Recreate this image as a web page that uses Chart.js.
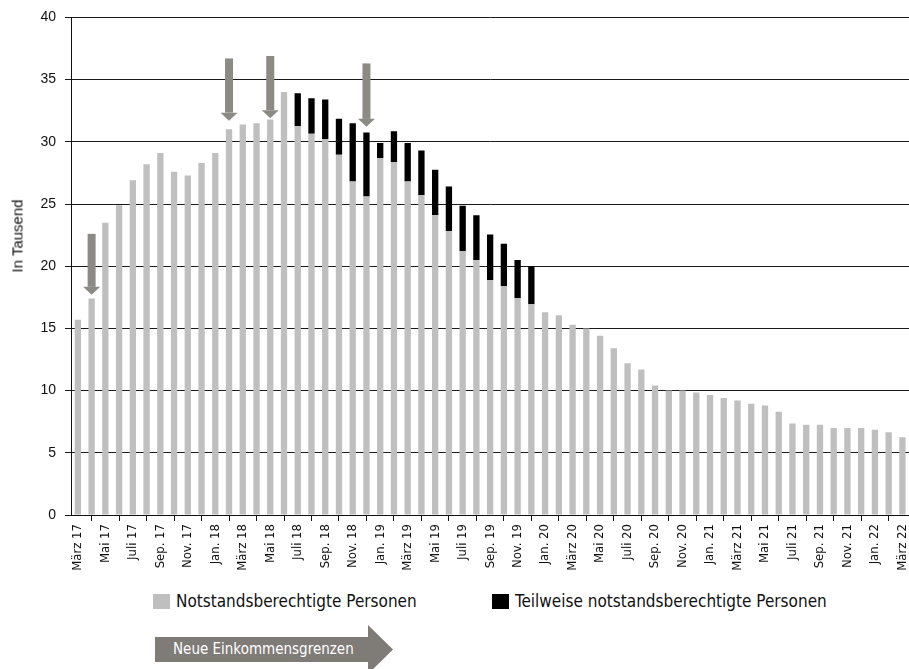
<!DOCTYPE html>
<html lang="de">
<head>
<meta charset="utf-8">
<title>Notstandsberechtigte Personen</title>
<script src="https://cdn.jsdelivr.net/npm/chart.js@4.4.1/dist/chart.umd.min.js"></script>
<style>
  html, body { margin: 0; padding: 0; background: #fff; overflow: hidden; }
  #wrap { position: relative; width: 909px; height: 669px; overflow: hidden; font-family: "Liberation Sans Narrow", "DejaVu Sans Condensed", sans-serif; color: #111; }
  #box { position: absolute; left: 0; top: 0; width: 921px; height: 590px; }
  #ytitle { position: absolute; left: 17px; top: 236px; transform: translate(-50%, -50%) rotate(-90deg); font: 15px "Liberation Sans", sans-serif; color: #111; white-space: nowrap; }
  .leg { position: absolute; top: 591px; font-size: 17px; white-space: nowrap; line-height: 20px; }
  .leg span { display: inline-block; width: 17px; height: 15px; vertical-align: -2px; margin-right: 6px; }
  #grenzen { position: absolute; left: 155px; top: 625px; width: 238px; height: 49px; background: #7f7b77;
             clip-path: polygon(0 12px, 213px 12px, 213px 0, 238px 24.5px, 213px 49px, 213px 37px, 0 37px);
             color: #fff; font-size: 15px; line-height: 49px; box-sizing: border-box; padding-left: 18px; }
</style>
</head>
<body>
<div id="wrap">
  <div id="box"><canvas id="chart"></canvas></div>
  <div id="ytitle">In Tausend</div>
  <div id="legend"></div>
  <div id="grenzen">Neue Einkommensgrenzen</div>
</div>
<script>
// Monate März 2017 bis März 2022
const monate = [
  'März 17', 'Apr. 17', 'Mai 17', 'Juni 17', 'Juli 17', 'Aug. 17', 'Sep. 17', 'Okt. 17', 'Nov. 17', 'Dez. 17',
  'Jan. 18', 'Feb. 18', 'März 18', 'Apr. 18', 'Mai 18', 'Juni 18', 'Juli 18', 'Aug. 18', 'Sep. 18', 'Okt. 18', 'Nov. 18', 'Dez. 18',
  'Jan. 19', 'Feb. 19', 'März 19', 'Apr. 19', 'Mai 19', 'Juni 19', 'Juli 19', 'Aug. 19', 'Sep. 19', 'Okt. 19', 'Nov. 19', 'Dez. 19',
  'Jan. 20', 'Feb. 20', 'März 20', 'Apr. 20', 'Mai 20', 'Juni 20', 'Juli 20', 'Aug. 20', 'Sep. 20', 'Okt. 20', 'Nov. 20', 'Dez. 20',
  'Jan. 21', 'Feb. 21', 'März 21', 'Apr. 21', 'Mai 21', 'Juni 21', 'Juli 21', 'Aug. 21', 'Sep. 21', 'Okt. 21', 'Nov. 21', 'Dez. 21',
  'Jan. 22', 'Feb. 22', 'März 22'
];

// in Tausend
const notstand = [
  15.7, 17.4, 23.5, 24.9, 26.9, 28.2, 29.1, 27.6, 27.3, 28.3,
  29.1, 31.0, 31.4, 31.5, 31.8, 34.0, 31.25, 30.65, 30.2, 28.95, 26.8, 25.6,
  28.7, 28.35, 26.8, 25.7, 24.1, 22.8, 21.2, 20.5, 18.9, 18.4, 17.45, 16.95,
  16.3, 16.05, 15.3, 15.0, 14.4, 13.4, 12.2, 11.7, 10.4, 10.0, 10.0, 9.85,
  9.65, 9.4, 9.2, 8.95, 8.8, 8.3, 7.35, 7.25, 7.25, 7.0, 7.0, 7.0,
  6.85, 6.65, 6.25
];

const teilweise = [
  0, 0, 0, 0, 0, 0, 0, 0, 0, 0,
  0, 0, 0, 0, 0, 0, 2.65, 2.85, 3.2, 2.9, 4.7, 5.15,
  1.2, 2.5, 3.1, 3.6, 3.65, 3.6, 3.65, 3.6, 3.65, 3.4, 3.05, 3.05,
  0, 0, 0, 0, 0, 0, 0, 0, 0, 0, 0, 0,
  0, 0, 0, 0, 0, 0, 0, 0, 0, 0, 0, 0,
  0, 0, 0
];

// Pfeile: Monat, oberes Ende, Spitze
const pfeilMonat = ['Apr. 17', 'Feb. 18', 'Mai 18', 'Dez. 18'];
const pfeilVon = [22.6, 36.7, 36.9, 36.3];
const pfeilBis = [17.7, 31.7, 31.9, 31.2];

const pfeile = {
  id: 'pfeile',
  afterDatasetsDraw(chart) {
    const { ctx, scales: { x, y } } = chart;
    ctx.save();
    ctx.fillStyle = '#8b8a85';
    pfeilMonat.forEach((m, i) => {
      const px = x.getPixelForValue(monate.indexOf(m));
      const top = y.getPixelForValue(pfeilVon[i]);
      const tip = y.getPixelForValue(pfeilBis[i]);
      ctx.fillRect(px - 4, top, 8, tip - top - 8);
      ctx.beginPath();
      ctx.moveTo(px - 8.5, tip - 8);
      ctx.lineTo(px + 8.5, tip - 8);
      ctx.lineTo(px, tip);
      ctx.closePath();
      ctx.fill();
    });
    ctx.restore();
  }
};

const chart = new Chart(document.getElementById('chart'), {
  type: 'bar',
  data: {
    labels: monate,
    datasets: [
      { label: 'Notstandsberechtigte Personen', data: notstand, backgroundColor: '#bfbfbf' },
      { label: 'Teilweise notstandsberechtigte Personen', data: teilweise, backgroundColor: '#000000' }
    ]
  },
  options: {
    responsive: true,
    maintainAspectRatio: false,
    animation: false,
    barPercentage: 0.46,
    categoryPercentage: 1,
    layout: { padding: { top: 17, left: 0, right: 0, bottom: 0 } },
    plugins: { legend: { display: false }, tooltip: { enabled: false } },
    scales: {
      x: {
        stacked: true,
        afterFit: (s) => { s.height = 75; },
        border: { color: '#111' },
        grid: { drawOnChartArea: false, tickLength: 6, color: '#111', offset: true },
        ticks: {
          autoSkip: false, minRotation: 90, maxRotation: 90, padding: 3,
          color: '#111', font: { family: '"Liberation Sans Narrow", "DejaVu Sans Condensed", sans-serif', size: 13 },
          callback: (v, i) => (i % 2 === 0 ? monate[i] : null)
        }
      },
      y: {
        stacked: true,
        min: 0, max: 40,
        afterFit: (s) => { s.width = 71; },
        border: { color: '#111' },
        grid: { color: '#1a1a1a', tickLength: 6 },
        ticks: {
          stepSize: 5, padding: 9, color: '#111',
          font: { family: '"Liberation Sans", sans-serif', size: 14 }
        }
      }
    }
  },
  plugins: [pfeile]
});

// Legende aus den Datenreihen
const legendLeft = [153, 492];
const legend = document.getElementById('legend');
chart.data.datasets.forEach((ds, i) => {
  const d = document.createElement('div');
  d.className = 'leg';
  d.style.left = legendLeft[i] + 'px';
  d.innerHTML = '<span style="background:' + ds.backgroundColor + '"></span>' + ds.label;
  legend.appendChild(d);
});
</script>
</body>
</html>
